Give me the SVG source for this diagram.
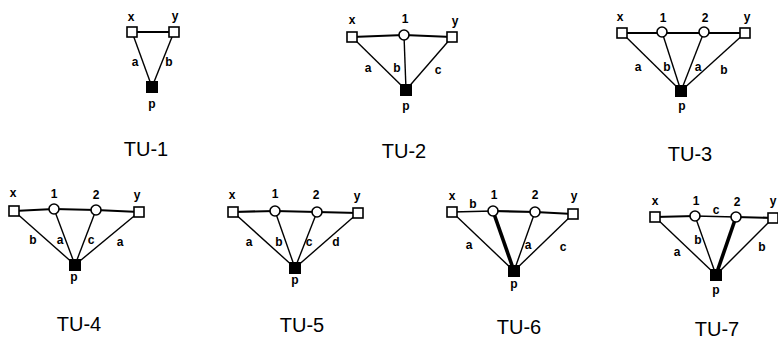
<svg xmlns="http://www.w3.org/2000/svg" width="778" height="342" viewBox="0 0 778 342">
<style>
.e{stroke:#000;stroke-width:1.4;fill:none}
.t{stroke:#000;stroke-width:2.2;fill:none}
.k{stroke:#000;stroke-width:3.6;fill:none}
.sq{fill:#fff;stroke:#000;stroke-width:1.6}
.c{fill:#fff;stroke:#000;stroke-width:1.6}
.pp{fill:#000;stroke:#000;stroke-width:1}
.l{font-family:"Liberation Sans",Arial,sans-serif;font-weight:bold;font-size:12px;fill:#000;text-anchor:middle}
.ttl{font-family:"Liberation Sans",Arial,sans-serif;font-size:20px;fill:#000;text-anchor:middle}
</style>
<rect width="778" height="342" fill="#fff"/>
<g id="connectors">
<!-- TU-1 -->
<line class="t" x1="132" y1="32" x2="174" y2="32"/>
<line class="e" x1="132" y1="32" x2="152" y2="87"/>
<line class="e" x1="174" y1="32" x2="152" y2="87"/>
<!-- TU-2 -->
<line class="t" x1="352" y1="37" x2="404" y2="35"/>
<line class="t" x1="404" y1="35" x2="452" y2="37"/>
<line class="e" x1="352" y1="37" x2="406" y2="90"/>
<line class="e" x1="404" y1="35" x2="406" y2="90"/>
<line class="e" x1="452" y1="37" x2="406" y2="90"/>
<!-- TU-3 -->
<line class="t" x1="622" y1="33" x2="745" y2="33"/>
<line class="e" x1="622" y1="33" x2="681" y2="91"/>
<line class="e" x1="662" y1="32" x2="681" y2="91"/>
<line class="e" x1="704" y1="32" x2="681" y2="91"/>
<line class="e" x1="745" y1="33" x2="681" y2="91"/>
<!-- TU-4 -->
<line class="t" x1="14" y1="211" x2="54" y2="209"/>
<line class="t" x1="54" y1="209" x2="96" y2="210"/>
<line class="t" x1="96" y1="210" x2="139" y2="212"/>
<line class="e" x1="14" y1="211" x2="75" y2="265"/>
<line class="e" x1="54" y1="209" x2="75" y2="265"/>
<line class="e" x1="96" y1="210" x2="75" y2="265"/>
<line class="e" x1="139" y1="212" x2="75" y2="265"/>
<!-- TU-5 -->
<line class="t" x1="233" y1="212" x2="275" y2="211"/>
<line class="t" x1="275" y1="211" x2="317" y2="212"/>
<line class="t" x1="317" y1="212" x2="358" y2="213"/>
<line class="e" x1="233" y1="212" x2="295" y2="268"/>
<line class="e" x1="275" y1="211" x2="295" y2="268"/>
<line class="e" x1="317" y1="212" x2="295" y2="268"/>
<line class="e" x1="358" y1="213" x2="295" y2="268"/>
<!-- TU-6 -->
<line class="e" x1="452" y1="212" x2="493" y2="211"/>
<line class="t" x1="493" y1="211" x2="535" y2="212"/>
<line class="t" x1="535" y1="212" x2="573" y2="214"/>
<line class="e" x1="452" y1="212" x2="514" y2="271"/>
<line class="k" x1="493" y1="211" x2="514" y2="271"/>
<line class="e" x1="535" y1="212" x2="514" y2="271"/>
<line class="e" x1="573" y1="214" x2="514" y2="271"/>
<!-- TU-7 -->
<line class="t" x1="655" y1="217" x2="695" y2="216"/>
<line class="e" x1="695" y1="216" x2="736" y2="217"/>
<line class="t" x1="736" y1="217" x2="773" y2="218"/>
<line class="e" x1="655" y1="217" x2="716" y2="275"/>
<line class="e" x1="695" y1="216" x2="716" y2="275"/>
<line class="k" x1="736" y1="217" x2="716" y2="275"/>
<line class="e" x1="773" y1="218" x2="716" y2="275"/>
</g>
<g id="TU-1">
<rect class="sq" x="127" y="27" width="10" height="10"/>
<rect class="sq" x="169" y="27" width="10" height="10"/>
<rect class="pp" x="146.5" y="81.5" width="11" height="11"/>
<text class="l" x="131" y="21">x</text><text class="l" x="175" y="20">y</text>
<text class="l" x="135" y="66">a</text><text class="l" x="169" y="66">b</text>
<text class="l" x="152" y="108">p</text>
<text class="ttl" x="146" y="156">TU-1</text>
</g>
<g id="TU-2">
<rect class="sq" x="347" y="32" width="10" height="10"/>
<circle class="c" cx="404" cy="35" r="5"/>
<rect class="sq" x="447" y="32" width="10" height="10"/>
<rect class="pp" x="400.5" y="84.5" width="11" height="11"/>
<text class="l" x="352" y="24">x</text><text class="l" x="405" y="23">1</text><text class="l" x="455" y="25">y</text>
<text class="l" x="368" y="72">a</text><text class="l" x="397" y="72">b</text><text class="l" x="438" y="74">c</text>
<text class="l" x="406" y="110">p</text>
<text class="ttl" x="404" y="158">TU-2</text>
</g>
<g id="TU-3">
<rect class="sq" x="617" y="28" width="10" height="10"/>
<circle class="c" cx="662" cy="32" r="5"/>
<circle class="c" cx="704" cy="32" r="5"/>
<rect class="sq" x="740" y="28" width="10" height="10"/>
<rect class="pp" x="675.5" y="85.5" width="11" height="11"/>
<text class="l" x="620" y="21">x</text><text class="l" x="663" y="22">1</text><text class="l" x="705" y="22">2</text><text class="l" x="747" y="21">y</text>
<text class="l" x="638" y="71">a</text><text class="l" x="667" y="71">b</text><text class="l" x="698" y="71">a</text><text class="l" x="724" y="74">b</text>
<text class="l" x="682" y="110">p</text>
<text class="ttl" x="690" y="161">TU-3</text>
</g>
<g id="TU-4">
<rect class="sq" x="9" y="206" width="10" height="10"/>
<circle class="c" cx="54" cy="209" r="5"/>
<circle class="c" cx="96" cy="210" r="5"/>
<rect class="sq" x="134" y="207" width="10" height="10"/>
<rect class="pp" x="69.5" y="259.5" width="11" height="11"/>
<text class="l" x="13" y="197">x</text><text class="l" x="54" y="198">1</text><text class="l" x="96" y="199">2</text><text class="l" x="137" y="199">y</text>
<text class="l" x="33" y="244">b</text><text class="l" x="60" y="244">a</text><text class="l" x="91" y="244">c</text><text class="l" x="120" y="246">a</text>
<text class="l" x="74" y="281">p</text>
<text class="ttl" x="79" y="331">TU-4</text>
</g>
<g id="TU-5">
<rect class="sq" x="228" y="207" width="10" height="10"/>
<circle class="c" cx="275" cy="211" r="5"/>
<circle class="c" cx="317" cy="212" r="5"/>
<rect class="sq" x="353" y="208" width="10" height="10"/>
<rect class="pp" x="289.5" y="262.5" width="11" height="11"/>
<text class="l" x="232" y="199">x</text><text class="l" x="275" y="198">1</text><text class="l" x="316" y="199">2</text><text class="l" x="357" y="200">y</text>
<text class="l" x="249" y="246">a</text><text class="l" x="279" y="246">b</text><text class="l" x="309" y="246">c</text><text class="l" x="336" y="246">d</text>
<text class="l" x="295" y="284">p</text>
<text class="ttl" x="302" y="332">TU-5</text>
</g>
<g id="TU-6">
<rect class="sq" x="447" y="207" width="10" height="10"/>
<circle class="c" cx="493" cy="211" r="5"/>
<circle class="c" cx="535" cy="212" r="5"/>
<rect class="sq" x="568" y="209" width="10" height="10"/>
<rect class="pp" x="508.5" y="265.5" width="11" height="11"/>
<text class="l" x="452" y="200">x</text><text class="l" x="473" y="208">b</text><text class="l" x="494" y="199">1</text><text class="l" x="535" y="199">2</text><text class="l" x="574" y="200">y</text>
<text class="l" x="469" y="249">a</text><text class="l" x="528" y="249">a</text><text class="l" x="563" y="251">c</text>
<text class="l" x="514" y="288">p</text>
<text class="ttl" x="519" y="334">TU-6</text>
</g>
<g id="TU-7">
<rect class="sq" x="768" y="213" width="10" height="10"/>
<rect class="sq" x="650" y="212" width="10" height="10"/>
<circle class="c" cx="695" cy="216" r="5"/>
<circle class="c" cx="736" cy="217" r="5"/>
<rect class="pp" x="710.5" y="269.5" width="11" height="11"/>
<text class="l" x="655" y="205">x</text><text class="l" x="696" y="205">1</text><text class="l" x="716" y="214">c</text><text class="l" x="737" y="206">2</text><text class="l" x="773" y="205">y</text>
<text class="l" x="677" y="256">a</text><text class="l" x="698" y="244">b</text><text class="l" x="762" y="251">b</text>
<text class="l" x="716" y="294">p</text>
<text class="ttl" x="717" y="336">TU-7</text>
</g>
</svg>
